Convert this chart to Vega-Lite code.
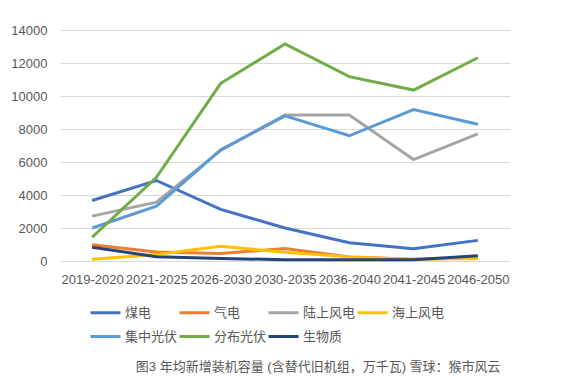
{
  "$schema": "https://vega.github.io/schema/vega-lite/v6.json",
  "width": 450,
  "height": 231,
  "padding": {"left": 10, "top": 24, "right": 10, "bottom": 5},
  "background": "white",
  "config": {
    "font": "Liberation Sans, Noto Sans CJK SC",
    "view": {"stroke": null},
    "axis": {"labelColor": "#595959", "labelFontSize": 13, "ticks": false, "domain": false, "title": null},
    "title": {"fontSize": 13, "fontWeight": "normal", "color": "#595959"}
  },
  "title": {"text": "图3 年均新增装机容量 (含替代旧机组，万千瓦) 雪球：猴市风云", "orient": "bottom", "anchor": "start", "offset": 17, "dx": 125},
  "data": {"values": [
    {"period": "2019-2020", "type": "煤电", "value": 3670},
    {"period": "2021-2025", "type": "煤电", "value": 4880},
    {"period": "2026-2030", "type": "煤电", "value": 3125},
    {"period": "2030-2035", "type": "煤电", "value": 2000},
    {"period": "2036-2040", "type": "煤电", "value": 1110},
    {"period": "2041-2045", "type": "煤电", "value": 750},
    {"period": "2046-2050", "type": "煤电", "value": 1250},
    {"period": "2019-2020", "type": "气电", "value": 980},
    {"period": "2021-2025", "type": "气电", "value": 550},
    {"period": "2026-2030", "type": "气电", "value": 450},
    {"period": "2030-2035", "type": "气电", "value": 750},
    {"period": "2036-2040", "type": "气电", "value": 250},
    {"period": "2041-2045", "type": "气电", "value": 100},
    {"period": "2046-2050", "type": "气电", "value": 200},
    {"period": "2019-2020", "type": "陆上风电", "value": 2720},
    {"period": "2021-2025", "type": "陆上风电", "value": 3570},
    {"period": "2026-2030", "type": "陆上风电", "value": 6700},
    {"period": "2030-2035", "type": "陆上风电", "value": 8850},
    {"period": "2036-2040", "type": "陆上风电", "value": 8850},
    {"period": "2041-2045", "type": "陆上风电", "value": 6150},
    {"period": "2046-2050", "type": "陆上风电", "value": 7700},
    {"period": "2019-2020", "type": "海上风电", "value": 100},
    {"period": "2021-2025", "type": "海上风电", "value": 400},
    {"period": "2026-2030", "type": "海上风电", "value": 890},
    {"period": "2030-2035", "type": "海上风电", "value": 530},
    {"period": "2036-2040", "type": "海上风电", "value": 250},
    {"period": "2041-2045", "type": "海上风电", "value": 100},
    {"period": "2046-2050", "type": "海上风电", "value": 150},
    {"period": "2019-2020", "type": "集中光伏", "value": 2000},
    {"period": "2021-2025", "type": "集中光伏", "value": 3330},
    {"period": "2026-2030", "type": "集中光伏", "value": 6740},
    {"period": "2030-2035", "type": "集中光伏", "value": 8800},
    {"period": "2036-2040", "type": "集中光伏", "value": 7590},
    {"period": "2041-2045", "type": "集中光伏", "value": 9180},
    {"period": "2046-2050", "type": "集中光伏", "value": 8290},
    {"period": "2019-2020", "type": "分布光伏", "value": 1440},
    {"period": "2021-2025", "type": "分布光伏", "value": 5070},
    {"period": "2026-2030", "type": "分布光伏", "value": 10770},
    {"period": "2030-2035", "type": "分布光伏", "value": 13150},
    {"period": "2036-2040", "type": "分布光伏", "value": 11170},
    {"period": "2041-2045", "type": "分布光伏", "value": 10360},
    {"period": "2046-2050", "type": "分布光伏", "value": 12320},
    {"period": "2019-2020", "type": "生物质", "value": 830},
    {"period": "2021-2025", "type": "生物质", "value": 260},
    {"period": "2026-2030", "type": "生物质", "value": 150},
    {"period": "2030-2035", "type": "生物质", "value": 80},
    {"period": "2036-2040", "type": "生物质", "value": 80},
    {"period": "2041-2045", "type": "生物质", "value": 80},
    {"period": "2046-2050", "type": "生物质", "value": 320}
  ]},
  "mark": {"type": "line", "strokeWidth": 3},
  "encoding": {
    "x": {"field": "period", "type": "ordinal", "sort": null, "scale": {"type": "point", "padding": 0.5},
      "axis": {"labelAngle": 0, "labelPadding": 12, "grid": false}},
    "y": {"field": "value", "type": "quantitative", "scale": {"domain": [0, 14000]},
      "axis": {"values": [0, 2000, 4000, 6000, 8000, 10000, 12000, 14000], "format": "d", "labelPadding": 13, "gridColor": "#d9d9d9"}},
    "color": {"field": "type", "type": "nominal",
      "scale": {"domain": ["煤电", "气电", "陆上风电", "海上风电", "集中光伏", "分布光伏", "生物质"],
        "range": ["#4472C4", "#ED7D31", "#A5A5A5", "#FFC000", "#5B9BD5", "#70AD47", "#264478"]},
      "legend": {"title": null, "orient": "none", "legendX": 29, "legendY": 266, "direction": "horizontal", "columns": 4,
        "symbolType": "stroke", "symbolSize": 900, "symbolStrokeWidth": 3, "labelFontSize": 13, "labelColor": "#595959",
        "labelOffset": 3, "columnPadding": -6, "rowPadding": -5, "gridAlign": "all"}},
    "order": {"field": "type"}
  }
}
